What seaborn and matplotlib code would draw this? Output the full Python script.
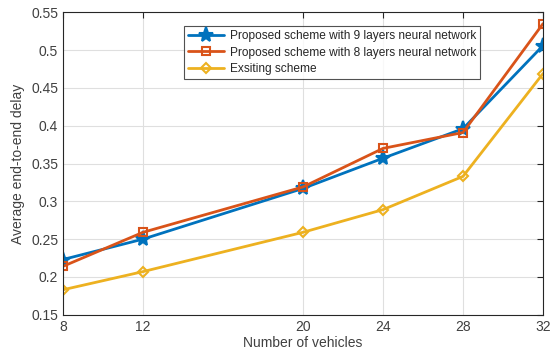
import matplotlib
matplotlib.use("Agg")
import matplotlib.pyplot as plt
import seaborn as sns
import pandas as pd

vehicles = [8, 12, 20, 24, 28, 32]
delay_9_layers = [0.223, 0.250, 0.317, 0.357, 0.396, 0.506]
delay_8_layers = [0.214, 0.259, 0.319, 0.370, 0.391, 0.535]
delay_existing = [0.183, 0.207, 0.259, 0.289, 0.333, 0.469]
series_names = [
    "Proposed scheme with 9 layers neural network",
    "Proposed scheme with 8 layers neural network",
    "Exsiting scheme",
]
x_ticks = [8, 12, 20, 24, 28, 32]
y_ticks = [0.15, 0.2, 0.25, 0.3, 0.35, 0.4, 0.45, 0.5, 0.55]

df = pd.DataFrame({
    "vehicles": vehicles * 3,
    "delay": delay_9_layers + delay_8_layers + delay_existing,
    "scheme": [series_names[0]] * 6 + [series_names[1]] * 6 + [series_names[2]] * 6,
})

sns.set_theme(style="white")
plt.rcParams["font.family"] = ["Liberation Sans", "DejaVu Sans"]

colors = ["#0072BD", "#D95319", "#EDB120"]
markers = ["*", "s", "D"]
msizes = [11, 6, 5.5]
text_color = "#404040"

fig = plt.figure(figsize=(5.59, 3.56), dpi=100)
ax = fig.add_axes([0.1127, 0.116, 0.8587, 0.8494])

for name, c, m, ms in zip(series_names, colors, markers, msizes):
    sub = df[df["scheme"] == name]
    face = c if m == "*" else "none"
    sns.lineplot(data=sub, x="vehicles", y="delay", ax=ax, color=c, lw=2,
                 marker=m, markersize=ms,
                 markerfacecolor=face, markeredgecolor=c, markeredgewidth=1.5,
                 label=name)

ax.set_xlim(8, 32)
ax.set_ylim(0.15, 0.55)
ax.set_xticks(x_ticks)
ax.set_xticklabels([str(v) for v in x_ticks])
ax.set_yticks(y_ticks)
ax.set_yticklabels([f"{v:g}" for v in y_ticks])
ax.grid(True, color="#DFDFDF", lw=0.8)
ax.set_axisbelow(True)

for side in ["top", "right", "bottom", "left"]:
    ax.spines[side].set_visible(True)
    ax.spines[side].set_color("#262626")
    ax.spines[side].set_linewidth(0.8)

ax.tick_params(direction="in", length=4, width=0.8, colors="#262626",
               top=True, right=True, labelcolor=text_color, labelsize=10)
ax.set_xlabel("Number of vehicles", color=text_color, fontsize=10, labelpad=2)
ax.set_ylabel("Average end-to-end delay", color=text_color, fontsize=10, labelpad=4)

leg = ax.legend(loc="upper right", bbox_to_anchor=(0.869, 0.955), fontsize=8.6,
                frameon=True, fancybox=False, edgecolor="#262626",
                handlelength=3.0, borderpad=0.35, labelspacing=0.38,
                handletextpad=0.45, borderaxespad=0)
leg.get_frame().set_linewidth(0.8)
for t in leg.get_texts():
    t.set_color("#262626")

fig.savefig("out.png", dpi=100)
